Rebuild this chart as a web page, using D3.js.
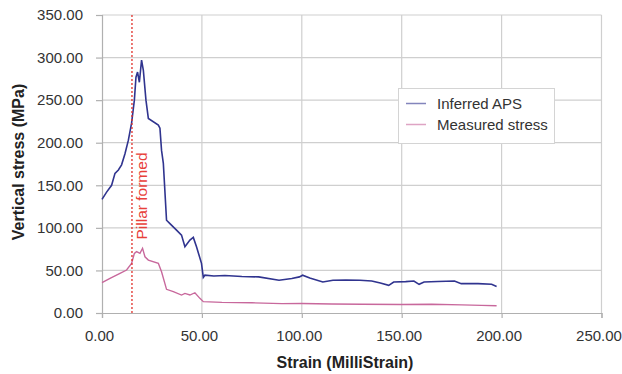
<!DOCTYPE html>
<html>
<head>
<meta charset="utf-8">
<script src="https://cdn.jsdelivr.net/npm/d3@7"></script>
<style>
  html, body { margin: 0; padding: 0; background: #fff; }
  svg { display: block; font-family: "Liberation Sans", Arial, sans-serif; }
</style>
</head>
<body>
<svg id="chart" width="622" height="374"></svg>
<script>
// Inferred APS (blue) — strain (millistrain) and vertical stress (MPa)
const apsStrain = [0, 2.3, 4.8, 6.5, 8.2, 9.8, 11.5, 13.2, 14.8, 16.2, 17, 17.8, 18.7, 19.8, 20.7, 22, 23.2, 28.2, 29, 29.8, 30.7, 32.3, 34, 37.3, 39.8, 41.5, 44, 45.7, 47.3, 49.8, 50.7,
  51.5, 56, 61.5, 70, 78.4, 88.6, 95, 98.8, 100.4, 104, 110.5, 115.6, 122, 129.1, 135, 139.3, 143.5, 146, 152, 156.1, 158.7, 161.2, 168, 176.4, 179.8, 188.2, 195, 197.5];
const apsStress = [133.5, 142, 150, 164, 168, 174, 187, 203, 223, 250, 277, 283, 271, 297, 285, 250, 228.5, 220.6, 217, 191, 175.7, 109, 105, 97.4, 91.5, 77.8, 85.7, 88.8, 77.8, 58.3, 41.9,
  44.4, 43.5, 44, 42.8, 42.4, 38.4, 40.5, 42.4, 44.4, 41, 36.4, 38.4, 38.8, 38.4, 37.5, 35.2, 32.5, 36.4, 36.8, 37.6, 33.7, 36.4, 37, 37.6, 34.5, 34.5, 33.7, 31.2];

// Measured stress (pink)
const measStrain = [0, 4, 9, 12.3, 14.8, 16.2, 17.3, 19, 20.3, 21.5, 23.2, 28.2, 29.8, 32.3, 35.7, 39.8, 41.5, 44, 46.5, 49, 50.7,
  60, 75, 90, 100, 115, 130, 150, 165, 180, 190, 197.5];
const measStress = [35.6, 40.7, 46.6, 50.5, 58.3, 70, 72, 70, 76, 66, 62.2, 58.3, 48.5, 27.8, 25, 21.1, 23, 21.1, 23.8, 17.2, 13.3,
  12.5, 12, 11, 11.2, 10.5, 10.2, 10, 10.3, 9.6, 9, 8.5];

const xTicks = [0, 50, 100, 150, 200, 250];
const yTicks = [0, 50, 100, 150, 200, 250, 300, 350];
const pillarStrain = 15;
const seriesNames = ["Inferred APS", "Measured stress"];
const seriesColors = ["#30348f", "#c8689c"];

const svg = d3.select("#chart");
const x = d3.scaleLinear().domain([0, 250]).range([102, 601.5]);
const y = d3.scaleLinear().domain([0, 350]).range([313, 15]);

// gridlines
svg.append("g").selectAll("line").data(yTicks.slice(1)).join("line")
  .attr("x1", x(0)).attr("x2", x(250))
  .attr("y1", d => y(d)).attr("y2", d => y(d))
  .attr("stroke", "#cfcfcf").attr("stroke-width", 1.2);
svg.append("g").selectAll("line").data(xTicks.slice(1)).join("line")
  .attr("x1", d => x(d)).attr("x2", d => x(d))
  .attr("y1", y(0)).attr("y2", y(350))
  .attr("stroke", "#cfcfcf").attr("stroke-width", 1.2);

// axes
const fmt = d3.format(".2f");
const xAxis = svg.append("g").attr("transform", `translate(0,${y(0)})`)
  .call(d3.axisBottom(x).tickValues(xTicks).tickFormat(fmt).tickSize(5).tickPadding(12));
const yAxis = svg.append("g").attr("transform", `translate(${x(0)},0)`)
  .call(d3.axisLeft(y).tickValues(yTicks).tickFormat(fmt).tickSize(6).tickPadding(13));
[xAxis, yAxis].forEach(a => {
  a.select(".domain").attr("stroke", "#b0b0b0").attr("stroke-width", 1.2);
  a.selectAll(".tick line").attr("stroke", "#b0b0b0").attr("stroke-width", 1.2);
  a.selectAll(".tick text").attr("fill", "#333").attr("font-size", 15)
    .attr("font-family", "'Liberation Sans', Arial, sans-serif");
});
xAxis.selectAll(".tick text").attr("dx", -3);

// series lines
const line = d3.line().x(d => x(d[0])).y(d => y(d[1]));
svg.append("path").datum(measStrain.map((s, i) => [s, measStress[i]]))
  .attr("d", line).attr("fill", "none").attr("stroke", seriesColors[1]).attr("stroke-width", 1.4);
svg.append("path").datum(apsStrain.map((s, i) => [s, apsStress[i]]))
  .attr("d", line).attr("fill", "none").attr("stroke", seriesColors[0]).attr("stroke-width", 1.6);

// pillar formation marker
svg.append("line")
  .attr("x1", x(pillarStrain)).attr("x2", x(pillarStrain))
  .attr("y1", y(350)).attr("y2", y(0))
  .attr("stroke", "#e0302a").attr("stroke-width", 1.3).attr("stroke-dasharray", "2,2");
svg.append("text")
  .attr("transform", `translate(${x(pillarStrain) + 15},${196}) rotate(-90)`)
  .attr("text-anchor", "middle").attr("font-size", 15.5).attr("fill", "#e8403a")
  .text("Pillar formed");

// legend
const lg = svg.append("g");
lg.append("rect").attr("x", 398.5).attr("y", 88.5).attr("width", 156).attr("height", 55)
  .attr("fill", "#fff").attr("stroke", "#d4d4d4");
seriesNames.forEach((name, i) => {
  const yy = 103.5 + i * 21;
  lg.append("line").attr("x1", 406).attr("x2", 426).attr("y1", yy).attr("y2", yy)
    .attr("stroke", seriesColors[i]).attr("stroke-opacity", 0.6).attr("stroke-width", 1.5);
  lg.append("text").attr("x", 437).attr("y", yy + 5).attr("font-size", 15)
    .attr("fill", "#333").text(name);
});

// axis titles
svg.append("text").attr("x", 345).attr("y", 368).attr("text-anchor", "middle")
  .attr("font-size", 16).attr("font-weight", "bold").attr("fill", "#222")
  .text("Strain (MilliStrain)");
svg.append("text").attr("transform", "translate(24,162) rotate(-90)")
  .attr("text-anchor", "middle").attr("font-size", 16).attr("font-weight", "bold").attr("fill", "#222")
  .text("Vertical stress (MPa)");
</script>
</body>
</html>
